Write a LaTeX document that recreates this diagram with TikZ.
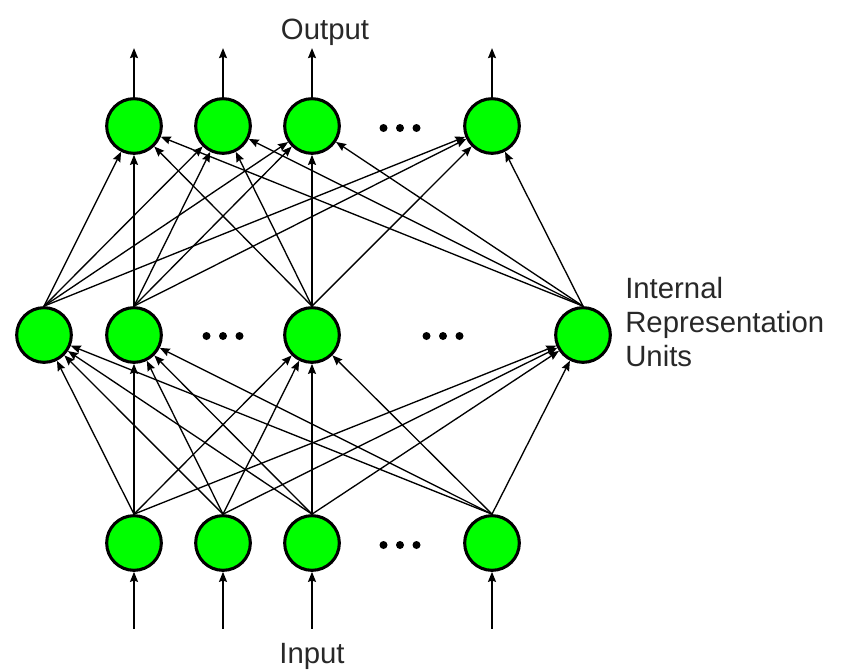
\documentclass[tikz,border=0pt]{standalone}
\usepackage{fontspec}
\setmainfont{Liberation Sans}
\usetikzlibrary{arrows.meta, positioning}
\definecolor{unitgreen}{RGB}{0,255,0}
\definecolor{labelgray}{RGB}{40,40,40}
\tikzset{
  unit/.style={circle, draw=black, line width=2.3pt, fill=unitgreen, minimum size=41pt, inner sep=0pt},
  link/.style={line width=1pt, -{Stealth[length=7.5pt,width=6pt,inset=1pt]}},
  label/.style={font=\fontsize{22}{25.5}\selectfont, text=labelgray, inner sep=0pt},
  dotsnode/.style={inner sep=0pt, minimum size=2pt}
}

\begin{document}
\begin{tikzpicture}[x=0.75pt, y=-0.75pt]
        \useasboundingbox (0,0) rectangle (843,671);
        % output units
        \node (t1) [unit] at (134,126) {};
        \node (t2) [unit] at (223,126) {};
        \node (t3) [unit] at (312,126) {};
        \node (t4) [unit] at (492,126) {};
        % internal representation units
        \node (m1) [unit] at (44,335) {};
        \node (m2) [unit] at (134,335) {};
        \node (m3) [unit] at (312,335) {};
        \node (m4) [unit] at (583,335) {};
        % input units
        \node (b1) [unit] at (134,543) {};
        \node (b2) [unit] at (223,543) {};
        \node (b3) [unit] at (312,543) {};
        \node (b4) [unit] at (492,543) {};

        \node (tdots) [dotsnode] at (400,128) {};
        \node (mdots1) [dotsnode] at (223,336) {};
        \node (mdots2) [dotsnode] at (443,336) {};
        \node (bdots) [dotsnode] at (400,545) {};
        \foreach \d in {tdots,mdots1,mdots2,bdots}
          \foreach \s in {-16.5,0,16.5}
            \fill ([xshift=\s*0.75pt]\d.center) circle (4);

        \node (out) [label, anchor=base] at (325,40) {Output};
        \node (in) [label, anchor=base] at (312,663) {Input};
        \node (irep) [label, anchor=base west, align=left] at (625,366) {Internal\\Representation\\Units};

        % connections
        \foreach \s in {b1,b2,b3,b4}
          \foreach \t in {m1,m2,m3,m4}
            \draw [link] (\s.north) -- (\t);
        \foreach \s in {m1,m2,m3,m4}
          \foreach \t in {t1,t2,t3,t4}
            \draw [link] (\s.north) -- (\t);

        \foreach \t in {t1,t2,t3,t4} {
          \coordinate (\t out) at ([yshift=49*0.75pt]\t.north);
          \draw [link] (\t.north) -- (\t out);
        }
        \foreach \b in {b1,b2,b3,b4} {
          \coordinate (\b in) at ([yshift=-57*0.75pt]\b.south);
          \draw [link] (\b in) -- (\b.south);
        }
    \end{tikzpicture}
\end{document}
